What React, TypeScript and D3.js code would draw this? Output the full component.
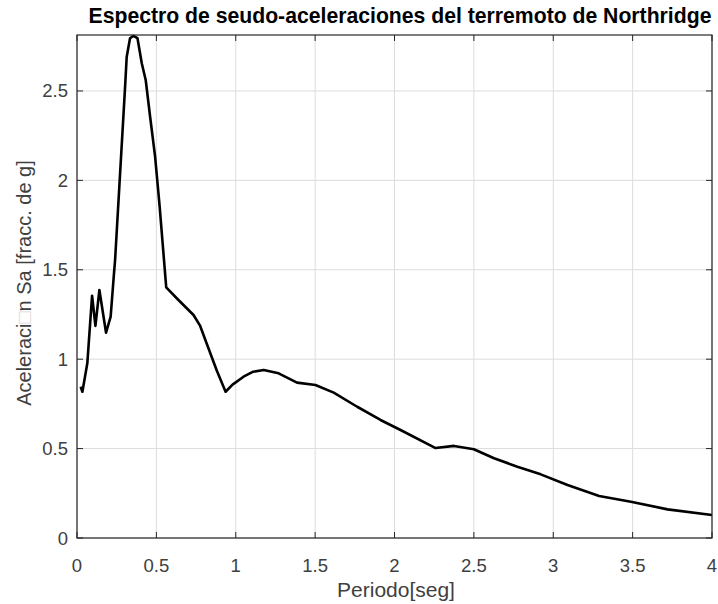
import React from "react";
import * as d3 from "d3";

const periods = [0.023, 0.034, 0.065, 0.095, 0.116, 0.141, 0.183, 0.212, 0.233, 0.24, 0.303, 0.313, 0.334, 0.355, 0.381, 0.408, 0.433, 0.46, 0.492, 0.52, 0.562, 0.639, 0.734, 0.776, 0.818, 0.881, 0.936, 0.98, 1.049, 1.11, 1.176, 1.27, 1.386, 1.502, 1.617, 1.765, 1.912, 2.038, 2.259, 2.375, 2.5, 2.627, 2.774, 2.921, 3.09, 3.289, 3.489, 3.72, 4.0];
const sa = [0.846, 0.818, 0.977, 1.355, 1.186, 1.387, 1.148, 1.238, 1.48, 1.555, 2.524, 2.69, 2.795, 2.808, 2.795, 2.655, 2.56, 2.36, 2.133, 1.86, 1.402, 1.331, 1.247, 1.186, 1.085, 0.935, 0.818, 0.858, 0.902, 0.93, 0.94, 0.921, 0.869, 0.856, 0.813, 0.734, 0.66, 0.604, 0.503, 0.515, 0.496, 0.446, 0.399, 0.356, 0.296, 0.235, 0.203, 0.16, 0.129];
const xTicks = [0, 0.5, 1, 1.5, 2, 2.5, 3, 3.5, 4];
const xTickLabels = ["0", "0.5", "1", "1.5", "2", "2.5", "3", "3.5", "4"];
const yTicks = [0, 0.5, 1, 1.5, 2, 2.5];
const yTickLabels = ["0", "0.5", "1", "1.5", "2", "2.5"];
const title = "Espectro de seudo-aceleraciones del terremoto de Northridge";
const xLabel = "Periodo[seg]";

export default function App() {
  const W = 718, H = 604;
  const left = 77, right = 712, top = 35, bottom = 538;
  const x = d3.scaleLinear().domain([0, 4]).range([left, right]);
  const y = d3.scaleLinear().domain([0, 2.813]).range([bottom, top]);
  const pts = periods.map((p, i) => [p, sa[i]] as [number, number]);
  const line = d3.line<[number, number]>().x(d => x(d[0])).y(d => y(d[1]));
  const font = "'Liberation Sans', Arial, Helvetica, sans-serif";
  const axisColor = "#262626";
  const tickLen = 6;
  return (
    <svg width={W} height={H} style={{ position: "absolute", left: 0, top: 0, background: "#fff" }} fontFamily={font}>
      <rect x={0} y={0} width={W} height={H} fill="#fff" />
      {xTicks.map((t, i) => (
        <line key={"gx" + i} x1={x(t)} x2={x(t)} y1={top} y2={bottom} stroke="#dcdcdc" strokeWidth={1} />
      ))}
      {yTicks.map((t, i) => (
        <line key={"gy" + i} x1={left} x2={right} y1={y(t)} y2={y(t)} stroke="#dcdcdc" strokeWidth={1} />
      ))}
      <path d={line(pts) || ""} fill="none" stroke="#000" strokeWidth={2.6} strokeLinejoin="round" />
      <rect x={left} y={top} width={right - left} height={bottom - top} fill="none" stroke={axisColor} strokeWidth={1.2} />
      {xTicks.map((t, i) => (
        <g key={"tx" + i}>
          <line x1={x(t)} x2={x(t)} y1={bottom} y2={bottom - tickLen} stroke={axisColor} />
          <line x1={x(t)} x2={x(t)} y1={top} y2={top + tickLen} stroke={axisColor} />
          <text x={x(t)} y={bottom + 34} textAnchor="middle" fontSize={18.5} fill="#404040">{xTickLabels[i]}</text>
        </g>
      ))}
      {yTicks.map((t, i) => (
        <g key={"ty" + i}>
          <line x1={left} x2={left + tickLen} y1={y(t)} y2={y(t)} stroke={axisColor} />
          <line x1={right} x2={right - tickLen} y1={y(t)} y2={y(t)} stroke={axisColor} />
          <text x={left - 9} y={y(t) + 6.5} textAnchor="end" fontSize={18.5} fill="#404040">{yTickLabels[i]}</text>
        </g>
      ))}
      <text x={400} y={23} textAnchor="middle" fontSize={21.2} fontWeight="bold" fill="#000">{title}</text>
      <text x={396} y={597} textAnchor="middle" fontSize={21} fill="#404040">{xLabel}</text>
      <text transform={`translate(31, 283) rotate(-90)`} textAnchor="middle" fontSize={20} fill="#404040">
        Aceleraci<tspan fill="#d8d8d8">□</tspan>n Sa [fracc. de g]
      </text>
    </svg>
  );
}
